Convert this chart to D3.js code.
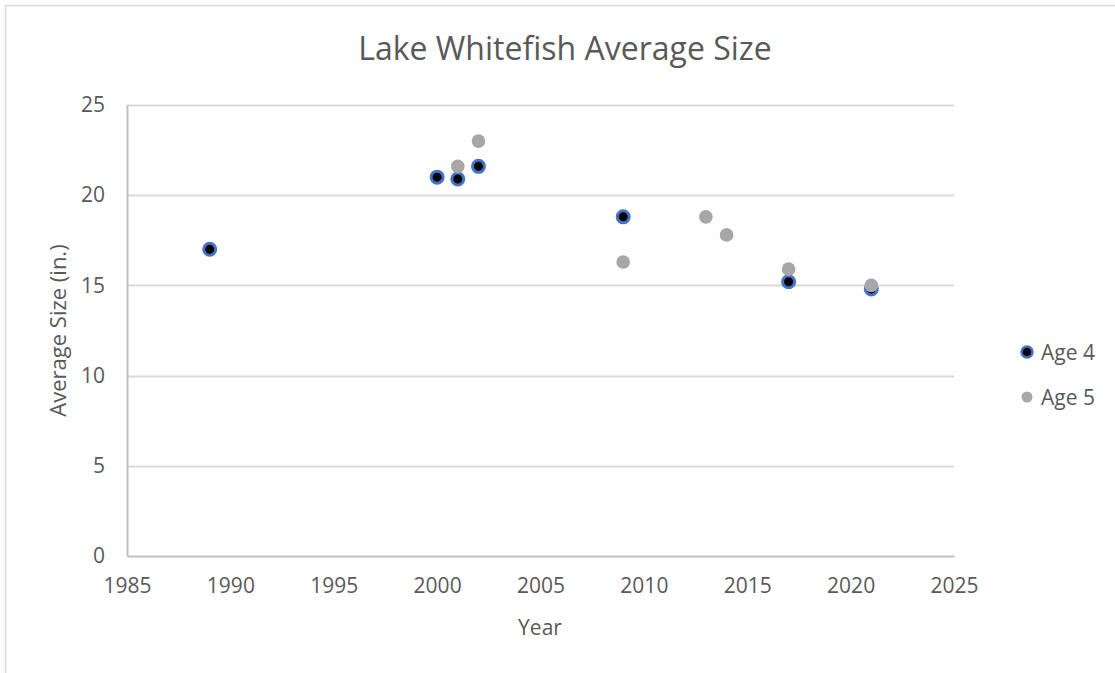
<!DOCTYPE html>
<html>
<head>
<meta charset="utf-8">
<script src="https://cdn.jsdelivr.net/npm/d3@7"></script>
<style>
  html, body { margin: 0; padding: 0; background: #fff; }
  svg { display: block; }
  text { font-family: "Open Sans", "Noto Sans", sans-serif; fill: #595959; }
</style>
</head>
<body>
<svg id="chart" width="1115" height="673"></svg>
<script>
// Survey years and average lengths (inches) by age class
const age4Years = [1989, 2000, 2001, 2002, 2009, 2017, 2021];
const age4Sizes = [17.0, 21.0, 20.9, 21.6, 18.8, 15.2, 14.8];
const age5Years = [2001, 2002, 2009, 2013, 2014, 2017, 2021];
const age5Sizes = [21.6, 23.0, 16.3, 18.8, 17.8, 15.9, 15.0];
const xTicks = [1985, 1990, 1995, 2000, 2005, 2010, 2015, 2020, 2025];
const yTicks = [0, 5, 10, 15, 20, 25];
const seriesNames = ["Age 4", "Age 5"];

const svg = d3.select("#chart");
const W = 1115, H = 673;

// Chart frame
svg.append("rect")
  .attr("x", 5.5).attr("y", 5.5)
  .attr("width", W + 10).attr("height", H + 10)
  .attr("fill", "#fff").attr("stroke", "#d9d9d9").attr("stroke-width", 1.5);

const plot = { left: 127, right: 954, top: 105, bottom: 556 };

const x = d3.scaleLinear().domain([1985, 2025]).range([plot.left, plot.right]);
const y = d3.scaleLinear().domain([0, 25]).range([plot.bottom, plot.top]);

// Horizontal gridlines
svg.append("g")
  .selectAll("line")
  .data(yTicks.filter(d => d > 0))
  .join("line")
  .attr("x1", plot.left).attr("x2", plot.right)
  .attr("y1", d => Math.round(y(d)) + 0.5).attr("y2", d => Math.round(y(d)) + 0.5)
  .attr("stroke", "#d9d9d9").attr("stroke-width", 2);

// Y axis
const yAxis = svg.append("g")
  .attr("transform", `translate(${plot.left},0)`)
  .call(d3.axisLeft(y).tickValues(yTicks).tickSize(0).tickPadding(22).tickFormat(d3.format("d")));
yAxis.select(".domain").attr("stroke", "#bfbfbf").attr("stroke-width", 2);
yAxis.selectAll("text").attr("font-size", 21).attr("fill", "#595959")
  .style("font-family", "'Open Sans', sans-serif");

// X axis
const xAxis = svg.append("g")
  .attr("transform", `translate(0,${plot.bottom})`)
  .call(d3.axisBottom(x).tickValues(xTicks).tickSize(0).tickPadding(22).tickFormat(d3.format("d")));
xAxis.select(".domain").attr("stroke", "#bfbfbf").attr("stroke-width", 2);
xAxis.selectAll("text").attr("font-size", 21).attr("fill", "#595959")
  .style("font-family", "'Open Sans', sans-serif");

// Titles
svg.append("text")
  .attr("x", 565).attr("y", 60)
  .attr("text-anchor", "middle")
  .attr("font-size", 32)
  .text("Lake Whitefish Average Size");

svg.append("text")
  .attr("x", 540).attr("y", 635)
  .attr("text-anchor", "middle")
  .attr("font-size", 21)
  .text("Year");

svg.append("text")
  .attr("transform", `translate(66,${(plot.top + plot.bottom) / 2}) rotate(-90)`)
  .attr("text-anchor", "middle")
  .attr("font-size", 22)
  .text("Average Size (in.)");

// Markers
const age4 = age4Years.map((yr, i) => ({ yr, v: age4Sizes[i] }));
const age5 = age5Years.map((yr, i) => ({ yr, v: age5Sizes[i] }));

svg.append("g").selectAll("circle")
  .data(age4).join("circle")
  .attr("cx", d => x(d.yr)).attr("cy", d => y(d.v))
  .attr("r", 6)
  .attr("fill", "#000").attr("stroke", "#4472c4").attr("stroke-width", 3);

svg.append("g").selectAll("circle")
  .data(age5).join("circle")
  .attr("cx", d => x(d.yr)).attr("cy", d => y(d.v))
  .attr("r", 6.8)
  .attr("fill", "#a8a6a6");

// Legend
const legend = svg.append("g");
seriesNames.forEach((name, i) => {
  const ly = 352 + i * 45;
  if (i === 0) {
    legend.append("circle").attr("cx", 1027).attr("cy", ly).attr("r", 5.5)
      .attr("fill", "#000").attr("stroke", "#4472c4").attr("stroke-width", 2.5);
  } else {
    legend.append("circle").attr("cx", 1027).attr("cy", ly).attr("r", 5.5)
      .attr("fill", "#a8a6a6");
  }
  legend.append("text").attr("x", 1041).attr("y", ly + 7.5)
    .attr("font-size", 21).text(name);
});
</script>
</body>
</html>
